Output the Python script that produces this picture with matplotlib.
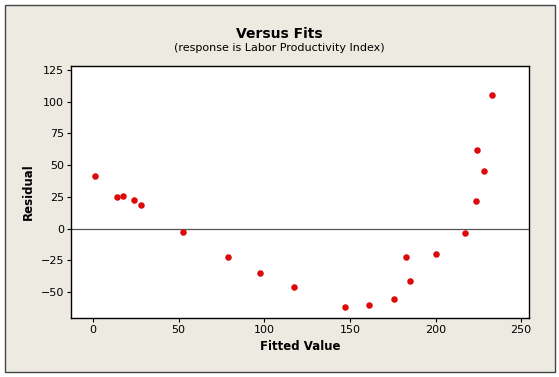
import matplotlib
matplotlib.use('Agg')
import matplotlib.pyplot as plt
from matplotlib.patches import Rectangle

# fitted values and residuals
fitted = [1.3, 14.1, 17.4, 24.2, 27.9, 52.5, 79.1, 97.8, 117.5, 147.2,
          161.3, 175.5, 182.9, 185.0, 200.4, 217.2, 223.5, 224.1, 228.5, 232.8]
residual = [41.7, 25.2, 26.0, 22.4, 18.7, -2.6, -22.0, -34.9, -45.7, -61.7,
            -60.3, -55.1, -22.0, -41.4, -19.9, -3.4, 21.6, 62.0, 45.4, 105.5]
xticks = [0, 50, 100, 150, 200, 250]
yticks = [-50, -25, 0, 25, 50, 75, 100, 125]

bg = '#EDEAE2'
fig = plt.figure(figsize=(5.59, 3.77), dpi=100)
fig.patch.set_facecolor('white')
# beige panel with dark border
fig.patches.append(Rectangle((5 / 559, 1 - 372 / 377), 550 / 559, 367 / 377,
                             transform=fig.transFigure, facecolor=bg,
                             edgecolor='#444444', linewidth=1.0, zorder=-10))

ax = fig.add_axes([71 / 559, 1 - 318 / 377, (528.7 - 71) / 559, (318 - 66) / 377])
ax.set_facecolor('white')
ax.axhline(0, color='#555555', linewidth=0.9, zorder=1)
ax.scatter(fitted, residual, s=22, color='#DD0A0A', zorder=3, linewidths=0)

ax.set_xlim(-12.8, 254.4)
ax.set_ylim(-70.3, 128)
ax.set_xticks(xticks)
ax.set_yticks(yticks)
ax.tick_params(labelsize=8, length=3, width=0.8, colors='black', pad=2)
for side in ['top', 'right', 'left', 'bottom']:
    ax.spines[side].set_linewidth(1.0)

ax.set_xlabel('Fitted Value', fontsize=8.5, fontweight='bold', labelpad=4)
ax.set_ylabel('Residual', fontsize=8.5, fontweight='bold', labelpad=4)

fig.text(0.5, 1 - 34 / 377, 'Versus Fits', ha='center', va='center',
         fontsize=10, fontweight='bold')
fig.text(0.5, 1 - 48 / 377, '(response is Labor Productivity Index)',
         ha='center', va='center', fontsize=8)

fig.savefig('out.png', dpi=100, facecolor=fig.get_facecolor())
